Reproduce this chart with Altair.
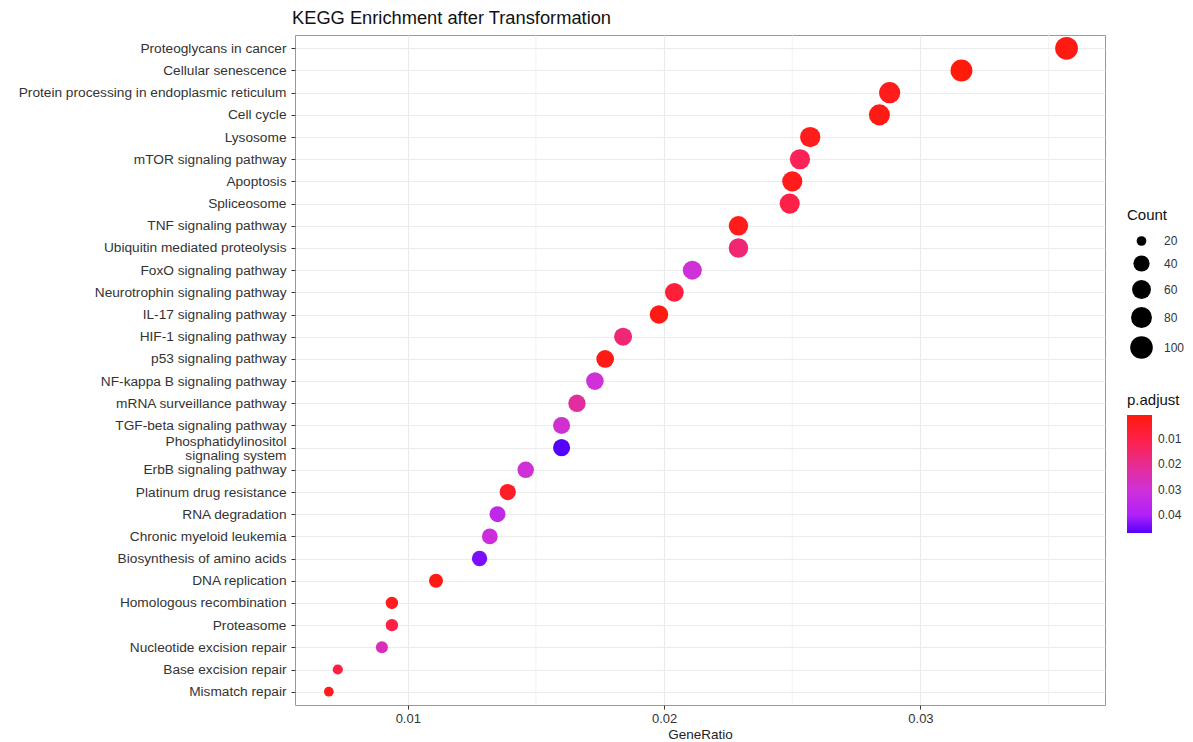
import altair as alt
import pandas as pd

pathways = [
    "Proteoglycans in cancer",
    "Cellular senescence",
    "Protein processing in endoplasmic reticulum",
    "Cell cycle",
    "Lysosome",
    "mTOR signaling pathway",
    "Apoptosis",
    "Spliceosome",
    "TNF signaling pathway",
    "Ubiquitin mediated proteolysis",
    "FoxO signaling pathway",
    "Neurotrophin signaling pathway",
    "IL-17 signaling pathway",
    "HIF-1 signaling pathway",
    "p53 signaling pathway",
    "NF-kappa B signaling pathway",
    "mRNA surveillance pathway",
    "TGF-beta signaling pathway",
    "Phosphatidylinositol\nsignaling system",
    "ErbB signaling pathway",
    "Platinum drug resistance",
    "RNA degradation",
    "Chronic myeloid leukemia",
    "Biosynthesis of amino acids",
    "DNA replication",
    "Homologous recombination",
    "Proteasome",
    "Nucleotide excision repair",
    "Base excision repair",
    "Mismatch repair",
]

gene_ratio = [
    0.0357, 0.0316, 0.0288, 0.0284, 0.0257, 0.0253, 0.0250, 0.0249,
    0.0229, 0.0229, 0.0211, 0.0204, 0.0198, 0.0184, 0.0177, 0.0173,
    0.0166, 0.0160, 0.0160, 0.0146, 0.0139, 0.0135, 0.0132, 0.0128,
    0.0111, 0.00938, 0.00938, 0.00899, 0.00727, 0.00692,
]

counts = [
    103, 91, 83, 82, 74, 73, 72, 72,
    66, 66, 61, 59, 57, 53, 51, 50,
    48, 46, 46, 42, 40, 39, 38, 37,
    32, 27, 27, 26, 21, 20,
]

p_adjust = [
    0.002, 0.0006, 0.003, 0.002, 0.003, 0.012, 0.003, 0.010,
    0.003, 0.016, 0.030, 0.008, 0.002, 0.016, 0.002, 0.030,
    0.022, 0.029, 0.047, 0.030, 0.005, 0.035, 0.031, 0.044,
    0.002, 0.004, 0.010, 0.026, 0.009, 0.003,
]

minor_breaks = [0.015, 0.025, 0.035]
major_breaks = [0.01, 0.02, 0.03]
count_breaks = [20, 40, 60, 80, 100]
padj_breaks = [0.01, 0.02, 0.03, 0.04]

# colour stops of the p.adjust gradient (listed from high to low so the
# vertical colour bar shows low values at the top)
padj_stops = [0.047, 0.04, 0.03, 0.02, 0.01, 0.0006]
padj_colors = ["#5500ff", "#b020f8", "#cf30d8", "#e62c8e", "#ff2048", "#ff1a0a"]

df = pd.DataFrame({
    "Description": pathways,
    "GeneRatio": gene_ratio,
    "Count": counts,
    "padj": p_adjust,
})
minor_df = pd.DataFrame({"m": minor_breaks})

FONT = "Liberation Sans"
xscale = alt.Scale(domain=[0.0056, 0.0372], nice=False, zero=False)

minor = alt.Chart(minor_df).mark_rule(color="#efefef", strokeWidth=0.8).encode(
    x=alt.X("m:Q", scale=xscale)
)

points = alt.Chart(df).mark_circle(opacity=1).encode(
    x=alt.X(
        "GeneRatio:Q",
        scale=xscale,
        axis=alt.Axis(values=major_breaks, format=".2f", title="GeneRatio",
                      titleFontSize=13.5, titleFontWeight="normal", titleColor="#222",
                      titlePadding=2, labelPadding=3, labelFontSize=13),
    ),
    y=alt.Y(
        "Description:N",
        sort=pathways,
        scale=alt.Scale(type="point", padding=0.6),
        axis=alt.Axis(title=None, labelExpr="split(datum.label, '\\n')",
                      labelLineHeight=14, labelPadding=5, labelLimit=400,
                      labelFontSize=13.7,
                      labelOffset={"condition": {"test": "indexof(datum.value, '\\n') >= 0",
                                                 "value": -6},
                                   "value": 0}),
    ),
    size=alt.Size(
        "Count:Q",
        scale=alt.Scale(domain=[20, 40, 60, 80, 100, 103],
                        range=[95, 263, 356, 437, 511, 519]),
        legend=alt.Legend(title="Count", values=count_breaks, orient="none",
                          legendX=832, legendY=173, symbolFillColor="black",
                          symbolStrokeWidth=0, symbolOpacity=1, labelOffset=11,
                          symbolOffset=3, rowPadding=8, symbolType="circle",
                          titlePadding=12),
    ),
    color=alt.Color(
        "padj:Q",
        scale=alt.Scale(domain=padj_stops, range=padj_colors, interpolate="rgb",
                        zero=False, nice=False),
        legend=alt.Legend(title="p.adjust", values=padj_breaks, format=".2f",
                          orient="none", legendX=832, legendY=358,
                          gradientLength=118, gradientThickness=25,
                          gradientStrokeWidth=0, labelOffset=6, titlePadding=7),
    ),
)

chart = alt.layer(minor, points).properties(
    width=810,
    height=670,
    autosize=alt.AutoSizeParams(type="none"),
    padding={"left": 287, "top": 27, "right": 80, "bottom": 37},
    title=alt.Title("KEGG Enrichment after Transformation", anchor="start",
                    frame="group", fontSize=18.3, fontWeight="normal",
                    font=FONT, color="#111", offset=6, dx=-3),
).configure_view(
    stroke="#999999", strokeWidth=1, fill="white"
).configure_axis(
    grid=True, gridColor="#ebebeb", gridWidth=1.1, domain=False,
    tickColor="#333", tickSize=4, labelColor="#333",
    labelFont=FONT, titleFont=FONT,
).configure_legend(
    titleFont=FONT, labelFont=FONT, titleFontSize=15, titleFontWeight="normal",
    titleColor="#111", labelFontSize=12, labelColor="#333",
)

chart.save("out.html", embed_options={"renderer": "svg", "actions": False})
